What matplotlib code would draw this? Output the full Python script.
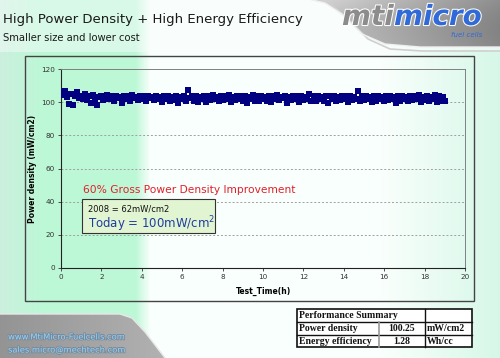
import numpy as np
import matplotlib
matplotlib.use("Agg")
import matplotlib.pyplot as plt
from matplotlib.patches import Rectangle, Polygon
import matplotlib.patheffects as pe

# ---------------- data ----------------
time_step_h = 0.1
power_density = [
    106, 104.5, 107, 103, 99, 105, 98.5, 104, 106, 102.5,
    104, 102, 105, 101.5, 103.5, 99.5, 104.5, 102, 98.5, 103,
    104, 101.5, 103, 104.5, 102, 103.5, 101, 104, 102.5, 103,
    99.5, 104, 102, 103.5, 101, 104.5, 102.5, 103, 101.5, 104,
    102, 103.5, 101, 104, 102.5, 103, 101.5, 104, 102, 103,
    100, 103.5, 102, 104, 100.5, 103, 101.5, 104, 99.5, 103,
    102, 104, 101, 107.5, 102.5, 103.5, 101, 104, 100, 103,
    102, 104, 100, 103.5, 101.5, 104.5, 102, 103, 100.5, 104,
    101.5, 103.5, 102, 104.5, 100, 103, 101.5, 104, 102, 103.5,
    101, 104, 99.5, 103, 102, 104.5, 101, 103.5, 100.5, 104,
    102, 103, 101, 104, 100, 103.5, 102, 104.5, 101.5, 103,
    102.5, 104, 99.5, 103, 101.5, 104, 102, 103.5, 100, 104,
    101.5, 103, 102, 105, 100.5, 103.5, 101, 104, 102, 103,
    101, 104, 99.5, 103.5, 102, 104, 100.5, 103, 101.5, 104,
    102, 103.5, 100, 104, 101.5, 103, 102, 106.5, 100.5, 103.5,
    101.5, 104, 102, 103, 100, 103.5, 101, 104, 102, 103,
    100.5, 103.5, 101.5, 104, 102, 103, 99.5, 103.5, 101, 104,
    102, 103, 100.5, 104, 101.5, 103.5, 102, 104.5, 100, 103,
    101.5, 104, 100.5, 103, 102, 104.5, 100, 103.5, 101, 103,
    100.5,
]
test_time = np.arange(len(power_density)) * time_step_h

x_ticks = [0, 2, 4, 6, 8, 10, 12, 14, 16, 18, 20]
y_ticks = [0, 20, 40, 60, 80, 100, 120]

title = "High Power Density + High Energy Efficiency"
subtitle = "Smaller size and lower cost"
x_label = "Test_Time(h)"
y_label = "Power density (mW/cm2)"
headline = "60% Gross Power Density Improvement"
note_2008 = "2008 = 62mW/cm2"
note_today = "Today = 100mW/cm$^2$"

table_rows = [
    ["Power density", "100.25", "mW/cm2"],
    ["Energy efficiency", "1.28", "Wh/cc"],
]
table_title = "Performance Summary"

# ---------------- figure ----------------
W, H = 500, 358
fig = plt.figure(figsize=(5, 3.58), dpi=100)

def fx(x):
    return x / W

def fy(y):
    return 1 - y / H

# background gradient (pixel data coords in bg axes)
bg = fig.add_axes([0, 0, 1, 1], zorder=-10)
bg.set_axis_off()
left_green = np.array([0.80, 0.94, 0.87])
band_green = np.array([0.74, 0.97, 0.84])
white = np.array([0.98, 1.0, 0.99])
right_green = np.array([0.84, 0.97, 0.91])
cols = []
for px in range(W):
    if px < 40:
        c = left_green + (band_green - left_green) * (px / 40)
    elif px < 135:
        c = band_green
    elif px < 150:
        c = band_green + (white - band_green) * ((px - 135) / 15)
    elif px < 380:
        c = white
    else:
        c = white + (right_green - white) * ((px - 380) / 120)
    cols.append(c)
row = np.array(cols)
img = np.tile(row[None, :, :], (H, 1, 1))
for yy in range(0, 52):
    img[yy] = img[yy] * 0.55 + 0.45 * np.array([0.98, 0.99, 0.99])
bg.imshow(img, extent=[0, W, H, 0], aspect="auto", zorder=0)
bg.set_xlim(0, W)
bg.set_ylim(H, 0)

# top-right metallic swoosh with gradient
gx = np.linspace(0, 1, 200)
gray_grad = np.zeros((60, 200, 3))
for i, g in enumerate(gx):
    v = 0.86 - 0.30 * g
    gray_grad[:, i, :] = v
for j in range(60):
    gray_grad[j] *= (1.0 - 0.08 * np.sin(j / 60 * np.pi))
top_poly = Polygon([(312, 0), (500, 0), (500, 47), (420, 47), (385, 44),
                    (362, 34), (342, 14), (325, 3)], closed=True,
                   facecolor="none", edgecolor="none")
bg.add_patch(top_poly)
im_top = bg.imshow(gray_grad, extent=[300, 500, 60, 0], aspect="auto", zorder=1)
im_top.set_clip_path(top_poly)
bg.plot([312, 325, 342, 362, 385, 420, 500], [0, 3, 14, 34, 44, 47, 47],
        color="#f0f0f0", linewidth=1.0, zorder=2)
bg.plot([318, 332, 348, 368, 390, 422, 500], [0, 5, 19, 39, 49, 51, 51],
        color="#cfcfcf", linewidth=1.2, zorder=1)

# bottom-left metallic swoosh
bot_grad = np.zeros((45, 170, 3))
for i in range(170):
    bot_grad[:, i, :] = 0.58 + 0.12 * (i / 170)
bot_poly = Polygon([(0, 314), (120, 314), (132, 318), (145, 332), (165, 358),
                    (0, 358)], closed=True, facecolor="none", edgecolor="none")
bg.add_patch(bot_poly)
im_bot = bg.imshow(bot_grad, extent=[0, 170, 358, 313], aspect="auto", zorder=1)
im_bot.set_clip_path(bot_poly)
bg.plot([0, 120, 132, 145, 165], [314, 314, 318, 332, 358], color="#e8e8e8",
        linewidth=1.0, zorder=2)

# title texts
fig.text(fx(3), fy(19), title, fontsize=9.5, color="#1a1a1a", va="center", ha="left")
fig.text(fx(3), fy(38), subtitle, fontsize=7.2, color="#1a1a1a", va="center", ha="left")

# logo
logo_fx = [pe.withStroke(linewidth=1.5, foreground="white")]
fig.text(fx(342), fy(17), "mti", fontsize=20, fontweight="bold", style="italic",
         color="#8c8c8c", va="center", ha="left", path_effects=logo_fx)
fig.text(fx(394), fy(17), "micro", fontsize=20, fontweight="bold", style="italic",
         color="#2f6ad8", va="center", ha="left", path_effects=logo_fx)
fig.text(fx(482), fy(35), "fuel cells", fontsize=5, color="#2f6ad8", va="center",
         ha="right", style="italic")

# chart outer box
fig.patches.append(Rectangle((fx(25), fy(301)), fx(449), (301 - 56) / H,
                             transform=fig.transFigure, facecolor="none",
                             edgecolor="#444444", linewidth=1.0, zorder=1))

# plot area
ax = fig.add_axes([fx(61), fy(268), fx(404), (268 - 69) / H])
ax.set_facecolor("none")
ax.scatter(test_time, power_density, marker="s", s=15, color="#000080",
           linewidths=0, zorder=3)
ax.set_xlim(0, 20)
ax.set_ylim(0, 120)
ax.set_xticks(x_ticks)
ax.set_yticks(y_ticks)
ax.tick_params(labelsize=5.2, colors="#333333", length=2.5, width=0.6, pad=2)
for v in y_ticks[1:-1]:
    ax.axhline(v, color="#a0a0a0", linestyle=(0, (2, 2)), linewidth=0.7, zorder=1)
for s in ["top", "right"]:
    ax.spines[s].set_color("#808080")
    ax.spines[s].set_linewidth(0.7)
for s in ["left", "bottom"]:
    ax.spines[s].set_color("#222222")
    ax.spines[s].set_linewidth(0.8)
ax.set_xlabel(x_label, fontsize=5.5, fontweight="bold", labelpad=5)
ax.set_ylabel(y_label, fontsize=5.5, fontweight="bold", labelpad=3)

# annotation
fig.text(fx(83), fy(190), headline, fontsize=7.7, color="#e0202a", va="center", ha="left")
fig.patches.append(Rectangle((fx(82), fy(233)), fx(133), 34 / H,
                             transform=fig.transFigure, facecolor="#e2f5d2",
                             edgecolor="#333333", linewidth=0.8, zorder=4))
fig.text(fx(88), fy(209), note_2008, fontsize=6, color="#111111", va="center",
         ha="left", zorder=5)
fig.text(fx(88), fy(224), note_today, fontsize=8.5, color="#1f3c9e", va="center",
         ha="left", zorder=5)

# performance table
row_y = [309, 322, 335, 347]
fig.patches.append(Rectangle((fx(297), fy(347)), fx(175), 38 / H,
                             transform=fig.transFigure, facecolor="white",
                             edgecolor="#111111", linewidth=1.2, zorder=4))
for ry in row_y[1:3]:
    fig.add_artist(plt.Line2D([fx(297), fx(472)], [fy(ry), fy(ry)],
                              transform=fig.transFigure, color="#111111",
                              linewidth=1.0, zorder=5))
fig.add_artist(plt.Line2D([fx(425), fx(425)], [fy(309), fy(347)],
                          transform=fig.transFigure, color="#111111",
                          linewidth=1.0, zorder=5))
fig.add_artist(plt.Line2D([fx(379), fx(379)], [fy(322), fy(347)],
                          transform=fig.transFigure, color="#999999",
                          linewidth=1.2, zorder=5))
tfont = dict(family="Liberation Serif", fontweight="bold", fontsize=7,
             color="#111111", va="center", zorder=6)
fig.text(fx(299), fy(315.5), table_title, ha="left", **tfont)
for i, r in enumerate(table_rows):
    yc = fy((row_y[i + 1] + row_y[i + 2]) / 2)
    fig.text(fx(299), yc, r[0], ha="left", **tfont)
    fig.text(fx(402), yc, r[1], ha="center", **tfont)
    fig.text(fx(427), yc, r[2], ha="left", **tfont)

# contact text
cfx = [pe.withStroke(linewidth=1.2, foreground="#7a8898")]
fig.text(fx(8), fy(337), "www.MtiMicro-Fuelcells.com", fontsize=6, color="#8fd6ff",
         va="center", ha="left", path_effects=cfx)
fig.text(fx(8), fy(350), "sales.micro@mechtech.com", fontsize=6, color="#8fd6ff",
         va="center", ha="left", path_effects=cfx)

fig.savefig("out.png", dpi=100)
